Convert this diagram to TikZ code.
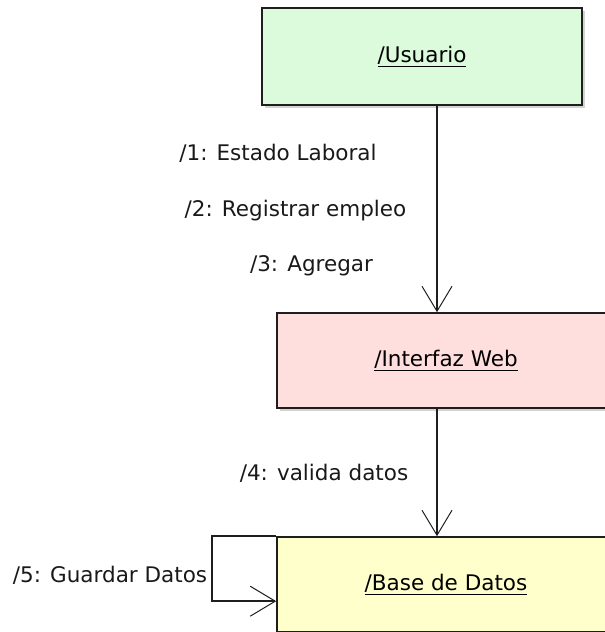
\documentclass[tikz,border=0pt]{standalone}
\usepackage{fontspec}
\setmainfont{DejaVu Sans}
\usepackage{xcolor}
\usetikzlibrary{arrows.meta,positioning}
\definecolor{userfill}{HTML}{DCFADC}
\definecolor{webfill}{HTML}{FFDEDE}
\definecolor{dbfill}{HTML}{FFFFCC}
\definecolor{edge}{HTML}{1E1E1E}
\definecolor{shade}{HTML}{A8A8A8}

\begin{document}
\begin{tikzpicture}[
  x=1pt, y=-1pt,
  font=\fontsize{21.5}{25}\selectfont,
  obj/.style={draw=edge, line width=1.6pt, minimum width=338pt, minimum height=95pt, align=center},
  shadowed/.style={preaction={fill=shade, opacity=0.5, transform canvas={xshift=2.5pt, yshift=-2.5pt}}},
  msg/.style={-{Straight Barb[length=25pt, width=30pt, line width=1pt]}, line width=1.6pt, draw=edge},
  lbl/.style={inner sep=0pt, text=black!90}
]
\clip (0,0) rectangle (605,632);
\node[obj, shadowed, fill=userfill, minimum width=320pt, minimum height=97pt] (usuario) at (422,56.5) {\underline{/Usuario}};
\node[obj, shadowed, fill=webfill] (web) at (446,360.5) {\underline{/Interfaz Web}};
\node[obj, fill=dbfill] (db) at (446,584.5) {\underline{/Base de Datos}};

% mensajes
\draw[msg] ([xshift=15pt]usuario.south) -- ([xshift=15pt]usuario.south |- web.north);
\draw[msg] ([xshift=-9pt]web.south) -- ([xshift=-9pt]web.south |- db.north);
\draw[msg] (db.north west) -- ++(-64,0) |- ([yshift=-65pt]db.north west);

\node[lbl] (m1) at (278,153) {/1: Estado Laboral};
\node[lbl] (m2) at (295.5,211) {/2: Registrar empleo};
\node[lbl] (m3) at (311.5,266) {/3: Agregar};
\node[lbl] (m4) at (324,473) {/4: valida datos};
\node[lbl] (m5) at (110,575) {/5: Guardar Datos};
\end{tikzpicture}
\end{document}
